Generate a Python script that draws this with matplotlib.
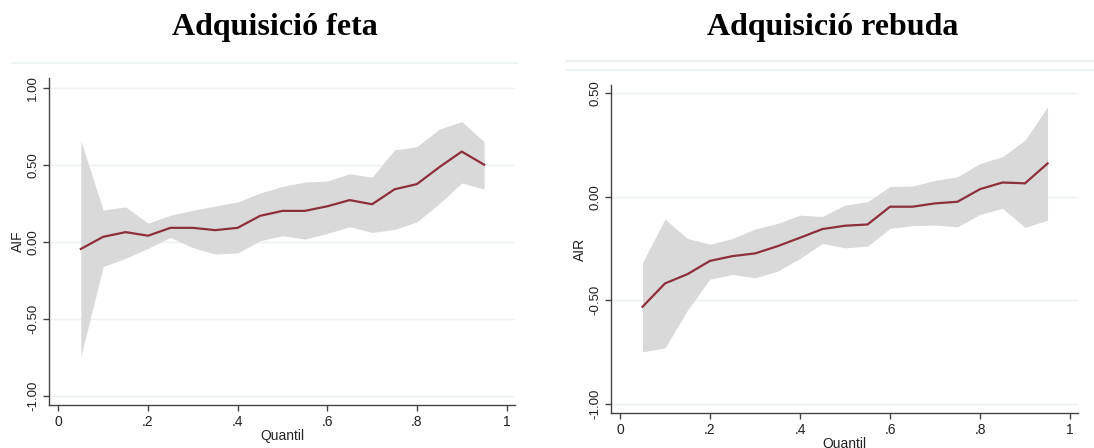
import matplotlib
matplotlib.use('Agg')
import matplotlib.pyplot as plt
from matplotlib.ticker import FixedLocator
from matplotlib.lines import Line2D

quantil = [0.05, 0.10, 0.15, 0.20, 0.25, 0.30, 0.35, 0.40, 0.45, 0.50,
           0.55, 0.60, 0.65, 0.70, 0.75, 0.80, 0.85, 0.90, 0.95]

# Adquisicio feta (AIF)
aif = [-0.047, 0.032, 0.062, 0.039, 0.090, 0.090, 0.075, 0.090, 0.168, 0.200,
       0.200, 0.230, 0.270, 0.243, 0.340, 0.374, 0.484, 0.585, 0.500]
aif_hi = [0.656, 0.206, 0.226, 0.120, 0.172, 0.204, 0.232, 0.258, 0.316, 0.359,
          0.387, 0.394, 0.441, 0.419, 0.596, 0.617, 0.731, 0.780, 0.649]
aif_lo = [-0.746, -0.161, -0.108, -0.043, 0.028, -0.039, -0.080, -0.073, 0.006, 0.039,
          0.017, 0.054, 0.097, 0.060, 0.080, 0.129, 0.247, 0.381, 0.342]

# Adquisicio rebuda (AIR)
air = [-0.532, -0.419, -0.374, -0.310, -0.287, -0.274, -0.239, -0.198, -0.156, -0.140,
       -0.134, -0.048, -0.048, -0.032, -0.024, 0.037, 0.069, 0.065, 0.161]
air_hi = [-0.318, -0.108, -0.202, -0.229, -0.202, -0.156, -0.129, -0.089, -0.095, -0.040,
          -0.024, 0.050, 0.052, 0.079, 0.097, 0.161, 0.194, 0.274, 0.435]
air_lo = [-0.750, -0.731, -0.548, -0.398, -0.376, -0.392, -0.360, -0.298, -0.226, -0.247,
          -0.239, -0.153, -0.140, -0.137, -0.145, -0.085, -0.056, -0.148, -0.113]

xticks = [0, 0.2, 0.4, 0.6, 0.8, 1]
xlabels = ['0', '.2', '.4', '.6', '.8', '1']

line_col = '#8e2f3c'
band_col = '#d9d9d9'
grid_col = '#eaf2f3'
spine_col = '#444444'

plt.rcParams['font.family'] = ['Liberation Sans', 'DejaVu Sans']

fig = plt.figure(figsize=(10.94, 4.48), dpi=100)


def panel(rect, y, lo, hi, yticks, ylabels, ylim, ylab):
    ax = fig.add_axes(rect)
    ax.fill_between(quantil, lo, hi, color=band_col, linewidth=0, zorder=1)
    ax.plot(quantil, y, color=line_col, linewidth=1.6, zorder=3)
    for v in yticks:
        ax.axhline(v, color=grid_col, linewidth=1.0, zorder=0)
    ax.set_ylim(*ylim)
    ax.yaxis.set_major_locator(FixedLocator(yticks))
    ax.set_yticklabels(ylabels, rotation=90, va='center', fontsize=9.5, color='#222222')
    ax.xaxis.set_major_locator(FixedLocator(xticks))
    ax.set_xticklabels(xlabels, fontsize=10, color='#222222')
    for s in ['top', 'right']:
        ax.spines[s].set_visible(False)
    for s in ['left', 'bottom']:
        ax.spines[s].set_color(spine_col)
        ax.spines[s].set_linewidth(1.0)
    ax.tick_params(direction='out', length=4, width=1, color=spine_col, pad=3)
    ax.set_ylabel(ylab, fontsize=10, labelpad=2, color='#222222')
    ax.set_xlabel('Quantil', fontsize=10, labelpad=0, color='#222222')
    return ax


ax1 = panel([0.0448, 0.096, 0.426, 0.730], aif, aif_lo, aif_hi,
            [-1.0, -0.5, 0.0, 0.5, 1.0], ['-1.00', '-0.50', '0.00', '0.50', '1.00'],
            (-1.06, 1.063), 'AIF')
ax1.set_xlim(-0.021, 1.019)

ax2 = panel([0.5585, 0.078, 0.427, 0.732], air, air_lo, air_hi,
            [-1.0, -0.5, 0.0, 0.5], ['-1.00', '-0.50', '0.00', '0.50'],
            (-1.046, 0.54), 'AIR')
ax2.set_xlim(-0.02, 1.018)

# light frame lines from the original graph regions
fig.add_artist(Line2D([12 / 1094, 517 / 1094], [1 - 63 / 448] * 2, color=grid_col, linewidth=1.2))
fig.add_artist(Line2D([567 / 1094, 1094 / 1094], [1 - 61 / 448] * 2, color=grid_col, linewidth=1.5))
fig.add_artist(Line2D([567 / 1094, 1094 / 1094], [1 - 70 / 448] * 2, color=grid_col, linewidth=1.2))

fig.text(275 / 1094, 1 - 27 / 448, 'Adquisició feta', ha='center', va='center',
         fontsize=23, fontweight='bold', family='Liberation Serif')
fig.text(833 / 1094, 1 - 27 / 448, 'Adquisició rebuda', ha='center', va='center',
         fontsize=23, fontweight='bold', family='Liberation Serif')

fig.savefig('out.png', dpi=100)
